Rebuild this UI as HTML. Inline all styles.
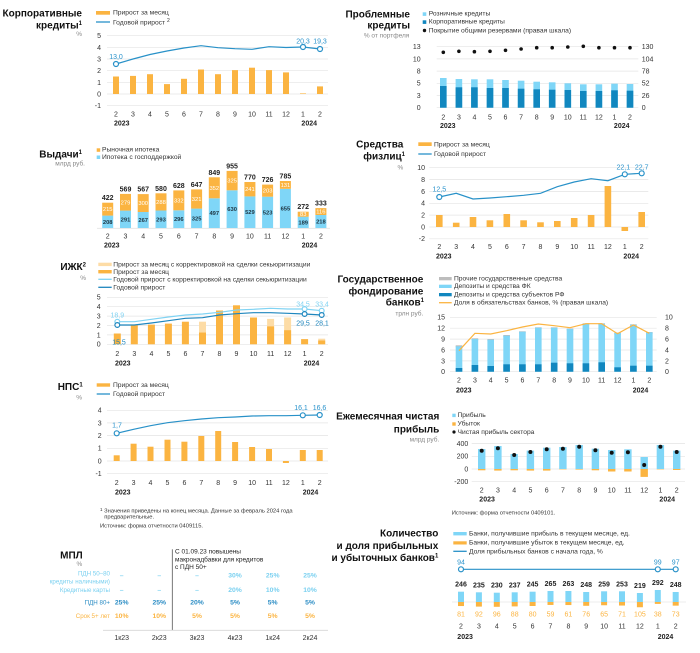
<!DOCTYPE html>
<html><head><meta charset="utf-8">
<style>
html,body{margin:0;padding:0;background:#fff;}
svg{display:block;font-family:"Liberation Sans",sans-serif;}
.t{font-weight:bold;font-size:10px;fill:#111;text-anchor:end}
.u{font-size:6.5px;fill:#888;text-anchor:end}
.lg{font-size:6.7px;fill:#333}
.ax{font-size:7px;fill:#333}
.ye{font-size:7px;fill:#222;font-weight:bold}
.g line{stroke:#e4e4e4;stroke-width:0.7}
.o{fill:#FBB441}
.lo{fill:#FDDCA6}
.lb{fill:#7FD6F7}
.db{fill:#1187BF}
.gr{fill:#BDBDBD}
.ln{fill:none;stroke:#2891C8;stroke-width:1.2}
.ci{fill:#fff;stroke:#2891C8;stroke-width:1.2}
.vl{font-size:7px;fill:#2A93CC;text-anchor:middle}
.src{font-size:5.8px;fill:#333}
</style></head><body>
<svg width="700" height="653" viewBox="0 0 700 653">

<!-- ========== Panel 1: Корпоративные кредиты ========== -->
<text class="t" x="82" y="16.7">Корпоративные</text>
<text class="t" x="82" y="28.3">кредиты<tspan font-size="6" dy="-3.5">1</tspan></text>
<text class="u" x="82" y="36">%</text>
<rect class="o" x="96" y="11" width="14" height="3.7"/>
<text class="lg" x="113" y="14.5">Прирост за месяц</text>
<line x1="96" y1="22" x2="110" y2="22" stroke="#2891C8" stroke-width="1.3"/>
<text class="lg" x="113" y="24.3">Годовой прирост <tspan font-size="5" dy="-2.5">2</tspan></text>
<g class="g"><line x1="107" x2="328" y1="35.7" y2="35.7"/><line x1="107" x2="328" y1="47.3" y2="47.3"/><line x1="107" x2="328" y1="59" y2="59"/><line x1="107" x2="328" y1="70.7" y2="70.7"/><line x1="107" x2="328" y1="82.3" y2="82.3"/><line x1="107" x2="328" y1="94" y2="94"/><line x1="107" x2="328" y1="105.7" y2="105.7"/></g>
<g class="ax" text-anchor="end"><text x="101" y="38.2">5</text><text x="101" y="49.8">4</text><text x="101" y="61.5">3</text><text x="101" y="73.2">2</text><text x="101" y="84.8">1</text><text x="101" y="96.5">0</text><text x="101" y="108.2">-1</text></g>
<g class="o">
<rect x="113" y="76.5" width="6" height="17.5"/><rect x="130" y="75.9" width="6" height="18.1"/><rect x="147" y="74.2" width="6" height="19.8"/><rect x="164" y="84.1" width="6" height="9.9"/><rect x="181" y="78.8" width="6" height="15.2"/><rect x="198" y="69.5" width="6" height="24.5"/><rect x="215" y="74.2" width="6" height="19.8"/><rect x="232" y="70.1" width="6" height="23.9"/><rect x="249" y="67.7" width="6" height="26.3"/><rect x="266" y="70.1" width="6" height="23.9"/><rect x="283" y="72.4" width="6" height="21.6"/><rect x="300" y="93.4" width="6" height="0.6"/><rect x="317" y="86.4" width="6" height="7.6"/>
</g>
<polyline class="ln" points="116,64 133,59 150,54.5 167,51 184,48 201,45.7 218,47.7 235,48.7 252,49.3 269,46.7 286,47.5 303,47 320,49"/>
<circle class="ci" cx="116" cy="64" r="2.5"/><circle class="ci" cx="303" cy="47" r="2.5"/><circle class="ci" cx="320" cy="49" r="2.5"/>
<text class="vl" x="116" y="59">13,0</text><text class="vl" x="303" y="43.3">20,3</text><text class="vl" x="320" y="43.3">19,3</text>
<g class="ax" text-anchor="middle"><text x="116" y="116.7">2</text><text x="133" y="116.7">3</text><text x="150" y="116.7">4</text><text x="167" y="116.7">5</text><text x="184" y="116.7">6</text><text x="201" y="116.7">7</text><text x="218" y="116.7">8</text><text x="235" y="116.7">9</text><text x="252" y="116.7">10</text><text x="269" y="116.7">11</text><text x="286" y="116.7">12</text><text x="303" y="116.7">1</text><text x="320" y="116.7">2</text></g>
<text class="ye" x="114" y="125.7">2023</text><text class="ye" x="317" y="125.7" text-anchor="end">2024</text>

<!-- ========== Panel 2: Выдачи ========== -->
<text class="t" x="82" y="157.7">Выдачи<tspan font-size="6" dy="-3.5">1</tspan></text>
<text class="u" x="85" y="165.7">млрд руб.</text>
<rect class="o" x="96.7" y="148.3" width="3.5" height="3.5"/>
<text class="lg" x="102" y="151.7" font-size="6.3">Рыночная ипотека</text>
<rect class="lb" x="96.7" y="155.5" width="3.5" height="3.5"/>
<text class="lg" x="102" y="159" font-size="6.3">Ипотека с господдержкой</text>
<line x1="97" x2="330" y1="228.3" y2="228.3" stroke="#e4e4e4" stroke-width="0.8"/>
<g class="lb">
<rect x="102.2" y="215.6" width="11" height="12.4"/><rect x="120" y="210.6" width="11" height="17.4"/><rect x="137.7" y="212" width="11" height="16"/><rect x="155.5" y="210.5" width="11" height="17.5"/><rect x="173.3" y="210.3" width="11" height="17.7"/><rect x="191.1" y="208.6" width="11" height="19.4"/><rect x="208.8" y="198.3" width="11" height="29.7"/><rect x="226.6" y="190.3" width="11" height="37.7"/><rect x="244.4" y="196.4" width="11" height="31.6"/><rect x="262.1" y="196.7" width="11" height="31.3"/><rect x="279.9" y="188.8" width="11" height="39.2"/><rect x="297.7" y="216.7" width="11" height="11.3"/><rect x="315.4" y="215" width="11" height="13"/>
</g>
<g class="o">
<rect x="102.2" y="202.7" width="11" height="12.9"/><rect x="120" y="193.9" width="11" height="16.7"/><rect x="137.7" y="194.1" width="11" height="17.9"/><rect x="155.5" y="193.3" width="11" height="17.2"/><rect x="173.3" y="190.4" width="11" height="19.9"/><rect x="191.1" y="189.4" width="11" height="19.2"/><rect x="208.8" y="177.3" width="11" height="21"/><rect x="226.6" y="170.9" width="11" height="19.4"/><rect x="244.4" y="182" width="11" height="14.4"/><rect x="262.1" y="184.6" width="11" height="12.1"/><rect x="279.9" y="181" width="11" height="7.8"/><rect x="297.7" y="211.7" width="11" height="5"/><rect x="315.4" y="208.1" width="11" height="6.9"/>
</g>
<g font-size="7" font-weight="bold" fill="#222" text-anchor="middle">
<text x="107.7" y="200.2">422</text><text x="125.5" y="191.4">569</text><text x="143.2" y="191.6">567</text><text x="161" y="190.8">580</text><text x="178.8" y="187.9">628</text><text x="196.6" y="186.9">647</text><text x="214.3" y="174.8">849</text><text x="232.1" y="168.4">955</text><text x="249.9" y="179.5">770</text><text x="267.6" y="182.1">726</text><text x="285.4" y="178.5">785</text><text x="303.2" y="209.2">272</text><text x="320.9" y="205.6">333</text>
</g>
<g font-size="5.8" fill="#fff" text-anchor="middle">
<text x="107.7" y="211.2">215</text><text x="125.5" y="204.3">279</text><text x="143.2" y="205.1">300</text><text x="161" y="203.9">288</text><text x="178.8" y="202.4">332</text><text x="196.6" y="201">321</text><text x="214.3" y="189.8">352</text><text x="232.1" y="182.6">325</text><text x="249.9" y="191.2">241</text><text x="267.6" y="192.7">203</text><text x="285.4" y="186.9">131</text><text x="303.2" y="216.2">83</text><text x="320.9" y="213.6">116</text>
</g>
<g font-size="5.8" font-weight="bold" fill="#1d3340" text-anchor="middle">
<text x="107.7" y="223.8">208</text><text x="125.5" y="221.3">291</text><text x="143.2" y="222">267</text><text x="161" y="221.3">293</text><text x="178.8" y="221.2">296</text><text x="196.6" y="220.3">325</text><text x="214.3" y="215.2">497</text><text x="232.1" y="211.2">630</text><text x="249.9" y="214.2">529</text><text x="267.6" y="214.4">523</text><text x="285.4" y="210.4">655</text><text x="303.2" y="224.4">189</text><text x="320.9" y="223.5">218</text>
</g>
<g class="ax" text-anchor="middle"><text x="107.7" y="238.3">2</text><text x="125.5" y="238.3">3</text><text x="143.2" y="238.3">4</text><text x="161" y="238.3">5</text><text x="178.8" y="238.3">6</text><text x="196.6" y="238.3">7</text><text x="214.3" y="238.3">8</text><text x="232.1" y="238.3">9</text><text x="249.9" y="238.3">10</text><text x="267.6" y="238.3">11</text><text x="285.4" y="238.3">12</text><text x="303.2" y="238.3">1</text><text x="320.9" y="238.3">2</text></g>
<text class="ye" x="104" y="247.7">2023</text><text class="ye" x="317.3" y="247.7" text-anchor="end">2024</text>

<!-- ========== Panel 3: ИЖК ========== -->
<text class="t" x="86" y="270">ИЖК<tspan font-size="6" dy="-3.5">2</tspan></text>
<text class="u" x="86" y="280">%</text>
<rect class="lo" x="98.3" y="262.7" width="13.4" height="3.4"/>
<text class="lg" x="113.3" y="266.7">Прирост за месяц с корректировкой на сделки секьюритизации</text>
<rect class="o" x="98.3" y="270" width="13.4" height="3.4"/>
<text class="lg" x="113.3" y="274">Прирост за месяц</text>
<line x1="98.3" x2="111.7" y1="279.3" y2="279.3" stroke="#80D3F3" stroke-width="1.3"/>
<text class="lg" x="113.3" y="281.7">Годовой прирост с корректировкой на сделки секьюритизации</text>
<line x1="98.3" x2="111.7" y1="287.3" y2="287.3" stroke="#1E86BE" stroke-width="1.3"/>
<text class="lg" x="113.3" y="289.7">Годовой прирост</text>
<g class="g"><line x1="107" x2="328" y1="297.3" y2="297.3"/><line x1="107" x2="328" y1="306.7" y2="306.7"/><line x1="107" x2="328" y1="316.1" y2="316.1"/><line x1="107" x2="328" y1="325.5" y2="325.5"/><line x1="107" x2="328" y1="334.9" y2="334.9"/><line x1="107" x2="328" y1="344.3" y2="344.3"/></g>
<g class="ax" text-anchor="end"><text x="100.7" y="299.7">5</text><text x="100.7" y="309.1">4</text><text x="100.7" y="318.5">3</text><text x="100.7" y="327.9">2</text><text x="100.7" y="337.3">1</text><text x="100.7" y="346.7">0</text></g>
<g class="lo"><rect x="199" y="321.7" width="7" height="22.6"/><rect x="267.1" y="318.9" width="7" height="25.4"/><rect x="284.1" y="317.5" width="7" height="26.8"/><rect x="318.2" y="338.7" width="7" height="5.6"/></g>
<g class="o">
<rect x="113.8" y="333.5" width="7" height="10.8"/><rect x="130.8" y="325" width="7" height="19.3"/><rect x="147.9" y="324.6" width="7" height="19.7"/><rect x="164.9" y="323.6" width="7" height="20.7"/><rect x="181.9" y="321.7" width="7" height="22.6"/><rect x="199" y="332.55" width="7" height="11.75"/><rect x="216" y="310.5" width="7" height="33.8"/><rect x="233" y="305.3" width="7" height="39"/><rect x="250" y="317.5" width="7" height="26.8"/><rect x="267.1" y="326.4" width="7" height="17.9"/><rect x="284.1" y="330.2" width="7" height="14.1"/><rect x="301.1" y="339.1" width="7" height="5.2"/><rect x="318.2" y="340.5" width="7" height="3.8"/>
</g>
<polyline fill="none" stroke="#80D3F3" stroke-width="1.2" points="117.3,321.7 134.3,321.7 151.4,319.3 168.4,317 185.4,315 202.5,314 219.5,312.3 236.5,310 253.5,309.3 270.6,308.3 287.6,309 304.6,309 321.7,310.7"/>
<polyline fill="none" stroke="#1E86BE" stroke-width="1.2" points="117.3,325 134.3,325 151.4,323 168.4,320.7 185.4,318.3 202.5,317.7 219.5,315 236.5,313.7 253.5,312.7 270.6,312.7 287.6,313.3 304.6,314 321.7,315"/>
<g fill="#fff" stroke="#80D3F3" stroke-width="1.2"><circle cx="117.3" cy="321.7" r="2.4"/><circle cx="304.6" cy="309" r="2.4"/><circle cx="321.7" cy="310.7" r="2.4"/></g>
<g fill="#fff" stroke="#1E86BE" stroke-width="1.2"><circle cx="117.3" cy="325" r="2.4"/><circle cx="304.6" cy="314" r="2.4"/><circle cx="321.7" cy="315" r="2.4"/></g>
<g font-size="7" text-anchor="middle" fill="#80D3F3"><text x="117.3" y="317.7">18,9</text><text x="303" y="306.7">34,5</text><text x="322" y="306.7">33,4</text></g>
<g font-size="7" text-anchor="middle" fill="#1E86BE"><text x="119" y="344.5">15,5</text><text x="303" y="325.3">29,5</text><text x="322" y="325.3">28,1</text></g>
<g class="ax" text-anchor="middle"><text x="117.3" y="356">2</text><text x="134.3" y="356">3</text><text x="151.4" y="356">4</text><text x="168.4" y="356">5</text><text x="185.4" y="356">6</text><text x="202.5" y="356">7</text><text x="219.5" y="356">8</text><text x="236.5" y="356">9</text><text x="253.5" y="356">10</text><text x="270.6" y="356">11</text><text x="287.6" y="356">12</text><text x="304.6" y="356">1</text><text x="321.7" y="356">2</text></g>
<text class="ye" x="115" y="365.3">2023</text><text class="ye" x="319.3" y="365.3" text-anchor="end">2024</text>

<!-- ========== Panel 4: НПС ========== -->
<text class="t" x="82.7" y="390">НПС<tspan font-size="6" dy="-3.5">1</tspan></text>
<text class="u" x="82" y="399.3">%</text>
<rect class="o" x="96.7" y="383.3" width="13.4" height="3.4"/>
<text class="lg" x="113" y="387">Прирост за месяц</text>
<line x1="96.7" x2="110" y1="394" y2="394" stroke="#2891C8" stroke-width="1.3"/>
<text class="lg" x="113" y="396">Годовой прирост</text>
<g class="g"><line x1="107" x2="328" y1="410.3" y2="410.3"/><line x1="107" x2="328" y1="422.9" y2="422.9"/><line x1="107" x2="328" y1="435.6" y2="435.6"/><line x1="107" x2="328" y1="448.3" y2="448.3"/><line x1="107" x2="328" y1="461" y2="461"/><line x1="107" x2="328" y1="473.7" y2="473.7"/></g>
<g class="ax" text-anchor="end"><text x="101.7" y="412.7">4</text><text x="101.7" y="425.3">3</text><text x="101.7" y="438">2</text><text x="101.7" y="450.7">1</text><text x="101.7" y="463.4">0</text><text x="101.7" y="476.1">-1</text></g>
<g class="o">
<rect x="113.7" y="455.3" width="6" height="5.7"/><rect x="130.6" y="443.7" width="6" height="17.3"/><rect x="147.5" y="446.7" width="6" height="14.3"/><rect x="164.5" y="439.7" width="6" height="21.3"/><rect x="181.4" y="441.7" width="6" height="19.3"/><rect x="198.3" y="436" width="6" height="25"/><rect x="215.2" y="431" width="6" height="30"/><rect x="232.1" y="442" width="6" height="19"/><rect x="249.1" y="447" width="6" height="14"/><rect x="266" y="449" width="6" height="12"/><rect x="282.9" y="461" width="6" height="2"/><rect x="299.8" y="450" width="6" height="11"/><rect x="316.7" y="450" width="6" height="11"/>
</g>
<polyline class="ln" points="116.7,433.3 133.6,429.3 150.5,425.7 167.5,422.7 184.4,420.7 201.3,419 218.2,417.7 235.1,417 252.1,416 269,415.7 285.9,415.7 302.8,415.3 319.7,415"/>
<circle class="ci" cx="116.7" cy="433.3" r="2.5"/><circle class="ci" cx="302.8" cy="415.3" r="2.5"/><circle class="ci" cx="319.7" cy="415" r="2.5"/>
<text class="vl" x="117" y="427.3">1,7</text><text class="vl" x="301" y="410">16,1</text><text class="vl" x="319.5" y="410">16,6</text>
<g class="ax" text-anchor="middle"><text x="116.7" y="485">2</text><text x="133.6" y="485">3</text><text x="150.5" y="485">4</text><text x="167.5" y="485">5</text><text x="184.4" y="485">6</text><text x="201.3" y="485">7</text><text x="218.2" y="485">8</text><text x="235.1" y="485">9</text><text x="252.1" y="485">10</text><text x="269" y="485">11</text><text x="285.9" y="485">12</text><text x="302.8" y="485">1</text><text x="319.7" y="485">2</text></g>
<text class="ye" x="115" y="494.7">2023</text><text class="ye" x="318.3" y="494.7" text-anchor="end">2024</text>
<text class="src" x="100" y="512.7"><tspan font-size="4.5" dy="-1.5">1</tspan><tspan dy="1.5"> Значения приведены на конец месяца. Данные за февраль 2024 года</tspan></text>
<text class="src" x="104.3" y="518.7">предварительные.</text>
<text class="src" x="100" y="527.3">Источник: форма отчетности 0409115.</text>

<!-- ========== Panel 5: МПЛ ========== -->
<text class="t" x="82.7" y="558.3" font-size="10.5">МПЛ</text>
<text class="u" x="82.3" y="566">%</text>
<line x1="172.3" x2="172.3" y1="549.3" y2="630" stroke="#555" stroke-width="0.8"/>
<g font-size="6.5" fill="#222"><text x="175" y="553.7">С 01.09.23 повышены</text><text x="175" y="561.3">макронадбавки для кредитов</text><text x="175" y="569">с ПДН 50+</text></g>
<g font-size="6.2" text-anchor="end">
<text x="110" y="575.7" fill="#7AD0F0">ПДН 50–80</text>
<text x="110" y="583.3" fill="#7AD0F0">кредиты наличными)</text>
<text x="110" y="592" fill="#7AD0F0">Кредитные карты</text>
<text x="110" y="604.7" fill="#2A8CC4">ПДН 80+</text>
<text x="110" y="618" fill="#FBB441">Срок 5+ лет</text>
</g>
<g font-size="6.8" font-weight="bold" text-anchor="middle">
<g fill="#7AD0F0"><text x="121.7" y="577.7">–</text><text x="159.3" y="577.7">–</text><text x="197" y="577.7">–</text><text x="235" y="577.7">30%</text><text x="272.7" y="577.7">25%</text><text x="310" y="577.7">25%</text>
<text x="121.7" y="592">–</text><text x="159.3" y="592">–</text><text x="197" y="592">–</text><text x="235" y="592">20%</text><text x="272.7" y="592">10%</text><text x="310" y="592">10%</text></g>
<g fill="#2A8CC4"><text x="121.7" y="604.7">25%</text><text x="159.3" y="604.7">25%</text><text x="197" y="604.7">20%</text><text x="235" y="604.7">5%</text><text x="272.7" y="604.7">5%</text><text x="310" y="604.7">5%</text></g>
<g fill="#FBB441"><text x="121.7" y="618">10%</text><text x="159.3" y="618">10%</text><text x="197" y="618">5%</text><text x="235" y="618">5%</text><text x="272.7" y="618">5%</text><text x="310" y="618">5%</text></g>
</g>
<line x1="103" x2="328" y1="630.3" y2="630.3" stroke="#d6d6d6" stroke-width="0.8"/>
<g class="ax" text-anchor="middle"><text x="121.7" y="640">1к23</text><text x="159.3" y="640">2к23</text><text x="197" y="640">3к23</text><text x="235" y="640">4к23</text><text x="272.7" y="640">1к24</text><text x="310" y="640">2к24</text></g>

<!-- ========== Panel 6: Проблемные кредиты ========== -->
<text class="t" x="410" y="17.3">Проблемные</text>
<text class="t" x="410" y="28.3">кредиты</text>
<text class="u" x="409.3" y="37.7">% от портфеля</text>
<rect class="lb" x="422.7" y="12.3" width="3.6" height="3.6"/>
<text class="lg" x="428.7" y="15.7">Розничные кредиты</text>
<rect class="db" x="422.7" y="20.3" width="3.6" height="3.6"/>
<text class="lg" x="428.7" y="23.7">Корпоративные кредиты</text>
<circle cx="424.5" cy="30.5" r="1.7" fill="#111"/>
<text class="lg" x="428.7" y="32.7">Покрытие общими резервами (правая шкала)</text>
<g class="g"><line x1="436.7" x2="638.3" y1="46.7" y2="46.7"/><line x1="436.7" x2="638.3" y1="58.9" y2="58.9"/><line x1="436.7" x2="638.3" y1="71.1" y2="71.1"/><line x1="436.7" x2="638.3" y1="83.3" y2="83.3"/><line x1="436.7" x2="638.3" y1="95.5" y2="95.5"/><line x1="436.7" x2="638.3" y1="107.7" y2="107.7"/></g>
<g class="ax" text-anchor="end"><text x="420.7" y="49.1">13</text><text x="420.7" y="61.3">10</text><text x="420.7" y="73.5">8</text><text x="420.7" y="85.7">5</text><text x="420.7" y="97.9">3</text><text x="420.7" y="110.1">0</text></g>
<g class="ax"><text x="641.7" y="49.1">130</text><text x="641.7" y="61.3">104</text><text x="641.7" y="73.5">78</text><text x="641.7" y="85.7">52</text><text x="641.7" y="97.9">26</text><text x="641.7" y="110.1">0</text></g>
<g class="lb">
<rect x="440" y="78" width="6.6" height="29.7"/><rect x="455.6" y="79" width="6.6" height="28.7"/><rect x="471.1" y="79.3" width="6.6" height="28.4"/><rect x="486.7" y="79.3" width="6.6" height="28.4"/><rect x="502.2" y="80" width="6.6" height="27.7"/><rect x="517.8" y="80.7" width="6.6" height="27"/><rect x="533.4" y="81.7" width="6.6" height="26"/><rect x="548.9" y="82.3" width="6.6" height="25.4"/><rect x="564.5" y="83.3" width="6.6" height="24.4"/><rect x="580" y="84.3" width="6.6" height="23.4"/><rect x="595.6" y="84.3" width="6.6" height="23.4"/><rect x="611.2" y="83.7" width="6.6" height="24"/><rect x="626.7" y="84" width="6.6" height="23.7"/>
</g>
<g class="db">
<rect x="440" y="86" width="6.6" height="21.7"/><rect x="455.6" y="87.3" width="6.6" height="20.4"/><rect x="471.1" y="87.3" width="6.6" height="20.4"/><rect x="486.7" y="88" width="6.6" height="19.7"/><rect x="502.2" y="88" width="6.6" height="19.7"/><rect x="517.8" y="88.7" width="6.6" height="19"/><rect x="533.4" y="89.3" width="6.6" height="18.4"/><rect x="548.9" y="89.7" width="6.6" height="18"/><rect x="564.5" y="90" width="6.6" height="17.7"/><rect x="580" y="91" width="6.6" height="16.7"/><rect x="595.6" y="91" width="6.6" height="16.7"/><rect x="611.2" y="90.3" width="6.6" height="17.4"/><rect x="626.7" y="90.7" width="6.6" height="17"/>
</g>
<g fill="#111">
<circle cx="443.3" cy="52.3" r="1.8"/><circle cx="458.9" cy="51.3" r="1.8"/><circle cx="474.4" cy="51.7" r="1.8"/><circle cx="490" cy="51.3" r="1.8"/><circle cx="505.5" cy="50.3" r="1.8"/><circle cx="521.1" cy="49" r="1.8"/><circle cx="536.7" cy="47.7" r="1.8"/><circle cx="552.2" cy="47.7" r="1.8"/><circle cx="567.8" cy="47" r="1.8"/><circle cx="583.3" cy="46.3" r="1.8"/><circle cx="598.9" cy="47.7" r="1.8"/><circle cx="614.5" cy="47.7" r="1.8"/><circle cx="630" cy="47.7" r="1.8"/>
</g>
<g class="ax" text-anchor="middle"><text x="443.3" y="119.3">2</text><text x="458.9" y="119.3">3</text><text x="474.4" y="119.3">4</text><text x="490" y="119.3">5</text><text x="505.5" y="119.3">6</text><text x="521.1" y="119.3">7</text><text x="536.7" y="119.3">8</text><text x="552.2" y="119.3">9</text><text x="567.8" y="119.3">10</text><text x="583.3" y="119.3">11</text><text x="598.9" y="119.3">12</text><text x="614.5" y="119.3">1</text><text x="630" y="119.3">2</text></g>
<text class="ye" x="440" y="128">2023</text><text class="ye" x="629.5" y="128" text-anchor="end">2024</text>

<!-- ========== Panel 7: Средства физлиц ========== -->
<text class="t" x="403.3" y="147.7">Средства</text>
<text class="t" x="405" y="159.3">физлиц<tspan font-size="6" dy="-3.5">1</tspan></text>
<text class="u" x="403.3" y="169.3">%</text>
<rect class="o" x="418.3" y="142.3" width="13.4" height="3.7"/>
<text class="lg" x="434" y="146.7">Прирост за месяц</text>
<line x1="418.3" x2="431.7" y1="154" y2="154" stroke="#2891C8" stroke-width="1.3"/>
<text class="lg" x="434" y="156">Годовой прирост</text>
<g class="g"><line x1="429.3" x2="648.3" y1="167.7" y2="167.7"/><line x1="429.3" x2="648.3" y1="179.6" y2="179.6"/><line x1="429.3" x2="648.3" y1="191.4" y2="191.4"/><line x1="429.3" x2="648.3" y1="203.3" y2="203.3"/><line x1="429.3" x2="648.3" y1="215.1" y2="215.1"/><line x1="429.3" x2="648.3" y1="227" y2="227"/><line x1="429.3" x2="648.3" y1="238.8" y2="238.8"/></g>
<g class="ax" text-anchor="end"><text x="425" y="170.1">10</text><text x="425" y="182">8</text><text x="425" y="193.8">6</text><text x="425" y="205.7">4</text><text x="425" y="217.5">2</text><text x="425" y="229.4">0</text><text x="425" y="241.2">-2</text></g>
<g class="o">
<rect x="436" y="215" width="6.6" height="12"/><rect x="452.9" y="222.7" width="6.6" height="4.3"/><rect x="469.7" y="217" width="6.6" height="10"/><rect x="486.6" y="220.3" width="6.6" height="6.7"/><rect x="503.5" y="214" width="6.6" height="13"/><rect x="520.3" y="220.3" width="6.6" height="6.7"/><rect x="537.2" y="222.3" width="6.6" height="4.7"/><rect x="554" y="221" width="6.6" height="6"/><rect x="570.9" y="218" width="6.6" height="9"/><rect x="587.8" y="215" width="6.6" height="12"/><rect x="604.6" y="186" width="6.6" height="41"/><rect x="621.5" y="227" width="6.6" height="4"/><rect x="638.4" y="212" width="6.6" height="15"/>
</g>
<polyline class="ln" points="439.3,197 456.2,193.3 473,199 489.9,198 506.8,196.7 523.6,195.3 540.5,193.3 557.3,186.7 574.2,182 591.1,178.7 607.9,180.7 624.8,174.3 641.7,173.3"/>
<circle class="ci" cx="439.3" cy="197" r="2.5"/><circle class="ci" cx="624.8" cy="174.3" r="2.5"/><circle class="ci" cx="641.7" cy="173.3" r="2.5"/>
<text class="vl" x="439.3" y="191.7">12,5</text><text class="vl" x="623.3" y="169.3">22,1</text><text class="vl" x="641.7" y="169.3">22,7</text>
<g class="ax" text-anchor="middle"><text x="439.3" y="249">2</text><text x="456.2" y="249">3</text><text x="473" y="249">4</text><text x="489.9" y="249">5</text><text x="506.8" y="249">6</text><text x="523.6" y="249">7</text><text x="540.5" y="249">8</text><text x="557.3" y="249">9</text><text x="574.2" y="249">10</text><text x="591.1" y="249">11</text><text x="607.9" y="249">12</text><text x="624.8" y="249">1</text><text x="641.7" y="249">2</text></g>
<text class="ye" x="436" y="258.3">2023</text><text class="ye" x="639" y="258.3" text-anchor="end">2024</text>

<!-- ========== Panel 8: Государственное фондирование ========== -->
<text class="t" x="423.3" y="282.3">Государственное</text>
<text class="t" x="423.3" y="294.3">фондирование</text>
<text class="t" x="424" y="305.7">банков<tspan font-size="6" dy="-3.5">1</tspan></text>
<text class="u" x="423.3" y="315.7">трлн руб.</text>
<rect class="gr" x="439" y="277" width="12.7" height="3.3"/>
<text class="lg" x="454" y="280.7">Прочие государственные средства</text>
<rect class="lb" x="439" y="284.7" width="12.7" height="3.3"/>
<text class="lg" x="454" y="288">Депозиты и средства ФК</text>
<rect class="db" x="439" y="293" width="12.7" height="3.3"/>
<text class="lg" x="454" y="296.3">Депозиты и средства субъектов РФ</text>
<line x1="439" x2="451.7" y1="302.7" y2="302.7" stroke="#FBB441" stroke-width="1.3"/>
<text class="lg" x="454" y="304.5">Доля в обязательствах банков, % (правая шкала)</text>
<g class="g"><line x1="450" x2="656.7" y1="317.3" y2="317.3"/><line x1="450" x2="656.7" y1="328.2" y2="328.2"/><line x1="450" x2="656.7" y1="339.1" y2="339.1"/><line x1="450" x2="656.7" y1="350" y2="350"/><line x1="450" x2="656.7" y1="360.9" y2="360.9"/><line x1="450" x2="656.7" y1="371.7" y2="371.7"/></g>
<g class="ax" text-anchor="end"><text x="445" y="319.7">15</text><text x="445" y="330.6">12</text><text x="445" y="341.5">9</text><text x="445" y="352.4">6</text><text x="445" y="363.3">3</text><text x="445" y="374.1">0</text></g>
<g class="ax"><text x="665" y="319.7">10</text><text x="665" y="330.6">8</text><text x="665" y="341.5">6</text><text x="665" y="352.4">4</text><text x="665" y="363.3">2</text><text x="665" y="374.1">0</text></g>
<g class="gr">
<rect x="455.7" y="345.3" width="6.6" height="2"/><rect x="471.6" y="338.3" width="6.6" height="2"/><rect x="487.4" y="339" width="6.6" height="2"/><rect x="503.3" y="335" width="6.6" height="2"/><rect x="519.1" y="331.3" width="6.6" height="2"/><rect x="535" y="327.3" width="6.6" height="2"/><rect x="550.9" y="327.3" width="6.6" height="2"/><rect x="566.7" y="328.6" width="6.6" height="2"/><rect x="582.6" y="323.3" width="6.6" height="2"/><rect x="598.4" y="323.3" width="6.6" height="2"/><rect x="614.3" y="332.6" width="6.6" height="2"/><rect x="630.1" y="324.3" width="6.6" height="2"/><rect x="646" y="332" width="6.6" height="2"/>
</g>
<g class="lb">
<rect x="455.7" y="346.3" width="6.6" height="25.4"/><rect x="471.6" y="339" width="6.6" height="32.7"/><rect x="487.4" y="339.7" width="6.6" height="32"/><rect x="503.3" y="335.7" width="6.6" height="36"/><rect x="519.1" y="331.7" width="6.6" height="40"/><rect x="535" y="327.7" width="6.6" height="44"/><rect x="550.9" y="327.7" width="6.6" height="44"/><rect x="566.7" y="329" width="6.6" height="42.7"/><rect x="582.6" y="323.7" width="6.6" height="48"/><rect x="598.4" y="323.7" width="6.6" height="48"/><rect x="614.3" y="333" width="6.6" height="38.7"/><rect x="630.1" y="324.7" width="6.6" height="47"/><rect x="646" y="332.3" width="6.6" height="39.4"/>
</g>
<g class="db">
<rect x="455.7" y="368" width="6.6" height="3.7"/><rect x="471.6" y="365" width="6.6" height="6.7"/><rect x="487.4" y="366" width="6.6" height="5.7"/><rect x="503.3" y="364.3" width="6.6" height="7.4"/><rect x="519.1" y="364.3" width="6.6" height="7.4"/><rect x="535" y="364.3" width="6.6" height="7.4"/><rect x="550.9" y="362.7" width="6.6" height="9"/><rect x="566.7" y="363.3" width="6.6" height="8.4"/><rect x="582.6" y="363.3" width="6.6" height="8.4"/><rect x="598.4" y="362.3" width="6.6" height="9.4"/><rect x="614.3" y="367.3" width="6.6" height="4.4"/><rect x="630.1" y="365.7" width="6.6" height="6"/><rect x="646" y="365.7" width="6.6" height="6"/>
</g>
<polyline fill="none" stroke="#FBB441" stroke-width="1.2" points="459,350.7 474.9,333.3 490.7,334 506.6,330.7 522.4,327 538.3,324 554.2,325.7 570,327.7 585.9,323.7 601.7,323.7 617.6,333.7 633.4,325 649.3,333.3"/>
<g class="ax" text-anchor="middle"><text x="459" y="382.3">2</text><text x="474.9" y="382.3">3</text><text x="490.7" y="382.3">4</text><text x="506.6" y="382.3">5</text><text x="522.4" y="382.3">6</text><text x="538.3" y="382.3">7</text><text x="554.2" y="382.3">8</text><text x="570" y="382.3">9</text><text x="585.9" y="382.3">10</text><text x="601.7" y="382.3">11</text><text x="617.6" y="382.3">12</text><text x="633.4" y="382.3">1</text><text x="649.3" y="382.3">2</text></g>
<text class="ye" x="456" y="392.3">2023</text><text class="ye" x="648.3" y="392.3" text-anchor="end">2024</text>

<!-- ========== Panel 9: Ежемесячная чистая прибыль ========== -->
<text class="t" x="439.3" y="419.3">Ежемесячная чистая</text>
<text class="t" x="439.3" y="432.3">прибыль</text>
<text class="u" x="439.3" y="441.7">млрд руб.</text>
<rect class="lb" x="452.3" y="413.7" width="3.4" height="3.4"/>
<text class="lg" x="457.5" y="417">Прибыль</text>
<rect class="o" x="452.3" y="422.3" width="3.4" height="3.4"/>
<text class="lg" x="457.5" y="425.7">Убыток</text>
<circle cx="454" cy="432" r="1.6" fill="#111"/>
<text class="lg" x="457.5" y="434">Чистая прибыль сектора</text>
<g class="g"><line x1="471.7" x2="685" y1="443.6" y2="443.6"/><line x1="471.7" x2="685" y1="456.3" y2="456.3"/><line x1="471.7" x2="685" y1="469" y2="469"/><line x1="471.7" x2="685" y1="481.7" y2="481.7"/></g>
<g class="ax" text-anchor="end"><text x="468.3" y="446">400</text><text x="468.3" y="458.7">200</text><text x="468.3" y="471.4">0</text><text x="468.3" y="484.1">-200</text></g>
<g class="lb">
<rect x="478" y="449" width="7.4" height="20"/><rect x="494.2" y="446" width="7.4" height="23"/><rect x="510.5" y="454" width="7.4" height="15"/><rect x="526.7" y="450.6" width="7.4" height="18.4"/><rect x="543" y="447.7" width="7.4" height="21.3"/><rect x="559.2" y="447" width="7.4" height="22"/><rect x="575.5" y="445" width="7.4" height="24"/><rect x="591.7" y="448.7" width="7.4" height="20.3"/><rect x="608" y="450" width="7.4" height="19"/><rect x="624.2" y="449.3" width="7.4" height="19.7"/><rect x="640.5" y="457" width="7.4" height="12"/><rect x="656.7" y="445" width="7.4" height="24"/><rect x="673" y="450.6" width="7.4" height="18.4"/>
</g>
<g class="o">
<rect x="478" y="469" width="7.4" height="1.3"/><rect x="494.2" y="469" width="7.4" height="1.6"/><rect x="510.5" y="469" width="7.4" height="1.3"/><rect x="526.7" y="469" width="7.4" height="1.6"/><rect x="543" y="469" width="7.4" height="1.6"/><rect x="559.2" y="469" width="7.4" height="0.4"/><rect x="575.5" y="469" width="7.4" height="0.6"/><rect x="591.7" y="469" width="7.4" height="1.3"/><rect x="608" y="469" width="7.4" height="2.5"/><rect x="624.2" y="469" width="7.4" height="2.5"/><rect x="640.5" y="469" width="7.4" height="7.9"/><rect x="656.7" y="469" width="7.4" height="0.4"/><rect x="673" y="469" width="7.4" height="1"/>
</g>
<g fill="#111">
<circle cx="481.7" cy="450.7" r="2"/><circle cx="497.9" cy="448.3" r="2"/><circle cx="514.2" cy="455" r="2"/><circle cx="530.4" cy="452" r="2"/><circle cx="546.7" cy="449.3" r="2"/><circle cx="562.9" cy="448.7" r="2"/><circle cx="579.2" cy="446.7" r="2"/><circle cx="595.4" cy="450.3" r="2"/><circle cx="611.7" cy="452.7" r="2"/><circle cx="627.9" cy="452.3" r="2"/><circle cx="644.2" cy="465" r="2"/><circle cx="660.4" cy="446.7" r="2"/><circle cx="676.7" cy="452" r="2"/>
</g>
<g class="ax" text-anchor="middle"><text x="481.7" y="492.3">2</text><text x="497.9" y="492.3">3</text><text x="514.2" y="492.3">4</text><text x="530.4" y="492.3">5</text><text x="546.7" y="492.3">6</text><text x="562.9" y="492.3">7</text><text x="579.2" y="492.3">8</text><text x="595.4" y="492.3">9</text><text x="611.7" y="492.3">10</text><text x="627.9" y="492.3">11</text><text x="644.2" y="492.3">12</text><text x="660.4" y="492.3">1</text><text x="676.7" y="492.3">2</text></g>
<text class="ye" x="479.3" y="501.7">2023</text><text class="ye" x="675" y="501.7" text-anchor="end">2024</text>
<text class="src" x="451.7" y="514.7">Источник: форма отчетности 0409101.</text>

<!-- ========== Panel 10: Количество ========== -->
<text class="t" x="438.3" y="536.7">Количество</text>
<text class="t" x="438.3" y="549">и доля прибыльных</text>
<text class="t" x="438.3" y="561">и убыточных банков<tspan font-size="6" dy="-3.5">1</tspan></text>
<rect class="lb" x="453.3" y="532" width="13.4" height="3.4"/>
<text class="lg" x="469" y="535.7" font-size="6.4">Банки, получившие прибыль в текущем месяце, ед.</text>
<rect class="o" x="453.3" y="541.3" width="13.4" height="3.2"/>
<text class="lg" x="469" y="544.7" font-size="6.4">Банки, получившие убыток в текущем месяце, ед.</text>
<line x1="453.3" x2="466.7" y1="551.3" y2="551.3" stroke="#2891C8" stroke-width="1.3"/>
<text class="lg" x="469" y="553.7" font-size="6.4">Доля прибыльных банков с начала года, %</text>
<line x1="461" x2="675.7" y1="569.3" y2="569.3" stroke="#2891C8" stroke-width="1.2"/>
<circle class="ci" cx="461" cy="569.3" r="2.5"/><circle class="ci" cx="657.8" cy="569.3" r="2.5"/><circle class="ci" cx="675.7" cy="569.3" r="2.5"/>
<text class="vl" x="461" y="564.3">94</text><text class="vl" x="657.8" y="564.3">99</text><text class="vl" x="675.7" y="564.3">97</text>
<line x1="452" x2="686" y1="602" y2="602" stroke="#e6e6e6" stroke-width="0.7"/>
<g class="lb">
<rect x="458" y="591.7" width="6" height="10.3"/><rect x="475.9" y="592.3" width="6" height="9.7"/><rect x="493.8" y="592.7" width="6" height="9.3"/><rect x="511.7" y="592.3" width="6" height="9.7"/><rect x="529.6" y="591.7" width="6" height="10.3"/><rect x="547.5" y="591" width="6" height="11"/><rect x="565.4" y="591" width="6" height="11"/><rect x="583.2" y="592" width="6" height="10"/><rect x="601.1" y="591.3" width="6" height="10.7"/><rect x="619" y="591.3" width="6" height="10.7"/><rect x="636.9" y="593" width="6" height="9"/><rect x="654.8" y="590" width="6" height="12"/><rect x="672.7" y="592" width="6" height="10"/>
</g>
<g class="o">
<rect x="458" y="602" width="6" height="4.05"/><rect x="475.9" y="602" width="6" height="4.6"/><rect x="493.8" y="602" width="6" height="4.8"/><rect x="511.7" y="602" width="6" height="4.4"/><rect x="529.6" y="602" width="6" height="4"/><rect x="547.5" y="602" width="6" height="2.95"/><rect x="565.4" y="602" width="6" height="3.05"/><rect x="583.2" y="602" width="6" height="3.8"/><rect x="601.1" y="602" width="6" height="3.25"/><rect x="619" y="602" width="6" height="3.55"/><rect x="636.9" y="602" width="6" height="5.25"/><rect x="654.8" y="602" width="6" height="1.9"/><rect x="672.7" y="602" width="6" height="3.65"/>
</g>
<g font-size="7" font-weight="bold" fill="#222" text-anchor="middle">
<text x="461" y="586.7">246</text><text x="478.9" y="587.3">235</text><text x="496.8" y="587.7">230</text><text x="514.7" y="587.3">237</text><text x="532.6" y="586.7">245</text><text x="550.5" y="586">265</text><text x="568.4" y="586">263</text><text x="586.2" y="587">248</text><text x="604.1" y="586.3">259</text><text x="622" y="586.3">253</text><text x="639.9" y="588">219</text><text x="657.8" y="585">292</text><text x="675.7" y="587">248</text>
</g>
<g font-size="7" fill="#FBB441" text-anchor="middle">
<text x="461" y="616.7">81</text><text x="478.9" y="616.7">92</text><text x="496.8" y="616.7">96</text><text x="514.7" y="616.7">88</text><text x="532.6" y="616.7">80</text><text x="550.5" y="616.7">59</text><text x="568.4" y="616.7">61</text><text x="586.2" y="616.7">76</text><text x="604.1" y="616.7">65</text><text x="622" y="616.7">71</text><text x="639.9" y="616.7">105</text><text x="657.8" y="616.7">38</text><text x="675.7" y="616.7">73</text>
</g>
<g class="ax" text-anchor="middle"><text x="461" y="628.3">2</text><text x="478.9" y="628.3">3</text><text x="496.8" y="628.3">4</text><text x="514.7" y="628.3">5</text><text x="532.6" y="628.3">6</text><text x="550.5" y="628.3">7</text><text x="568.4" y="628.3">8</text><text x="586.2" y="628.3">9</text><text x="604.1" y="628.3">10</text><text x="622" y="628.3">11</text><text x="639.9" y="628.3">12</text><text x="657.8" y="628.3">1</text><text x="675.7" y="628.3">2</text></g>
<text class="ye" x="457.3" y="639">2023</text><text class="ye" x="673.3" y="639" text-anchor="end">2024</text>

</svg>
</body></html>
